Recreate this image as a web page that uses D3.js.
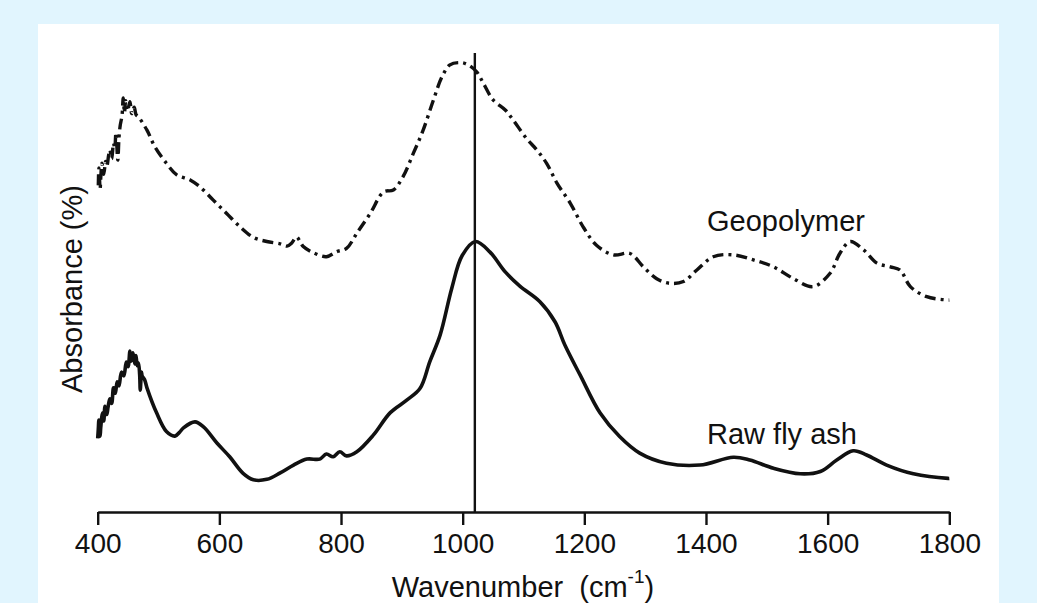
<!DOCTYPE html>
<html>
<head>
<meta charset="utf-8">
<script src="https://cdn.jsdelivr.net/npm/d3@7"></script>
<style>
  html, body { margin: 0; padding: 0; background: #e1f5fe; }
  svg { display: block; }
  text { font-family: "Liberation Sans", Arial, Helvetica, sans-serif; fill: #111; }
</style>
</head>
<body>
<svg id="chart" width="1037" height="603"></svg>
<script>
// ---- Data ----
const xTicks = [400, 600, 800, 1000, 1200, 1400, 1600, 1800];
const markerWavenumber = 1020;
const seriesNames = ["Geopolymer", "Raw fly ash"];

const rawFlyAshWavenumber = [400, 401, 402, 404, 405, 408, 410, 412, 415, 417, 420, 423, 426, 429, 432, 435, 439, 443, 447, 450, 453, 455, 458, 461, 463, 465, 467, 469, 470, 472, 473, 477, 481, 497, 513, 527, 535, 541, 560, 574, 596, 617, 639, 656, 678, 700, 722, 744, 765, 776, 787, 798, 809, 826, 853, 881, 908, 930, 946, 963, 982, 999, 1021, 1045, 1070, 1094, 1127, 1152, 1168, 1193, 1226, 1258, 1291, 1335, 1390, 1445, 1472, 1511, 1555, 1588, 1615, 1642, 1664, 1697, 1741, 1798, 1800];
const rawFlyAshAbsorbance = [16.0, 18.0, 20.0, 16.5, 18.4, 21.5, 19.8, 23.0, 21.2, 22.8, 24.6, 23.6, 27.0, 25.8, 28.3, 27.4, 30.4, 29.6, 32.6, 31.6, 35.0, 32.8, 34.6, 32.2, 34.0, 31.8, 32.4, 29.8, 26.5, 30.4, 29.6, 28.8, 27.0, 21.5, 17.5, 16.5, 17.4, 18.3, 19.6, 18.5, 15.0, 12.0, 8.4, 7.0, 7.1, 8.5, 10.2, 11.5, 11.5, 12.6, 12.0, 13.1, 12.2, 13.1, 16.7, 21.6, 24.3, 26.9, 32.7, 38.5, 48.6, 55.7, 58.8, 56.5, 52.2, 49.1, 45.7, 41.3, 36.3, 29.8, 21.5, 16.4, 12.8, 10.6, 10.2, 11.9, 11.3, 9.5, 8.3, 8.8, 11.3, 13.3, 12.4, 10.2, 8.3, 7.3, 7.3];

const geopolymerWavenumber = [401, 402, 404, 405, 407, 410, 413, 415, 418, 420, 423, 426, 428, 430, 433, 435, 437, 440, 442, 444, 446, 449, 453, 456, 460, 463, 467, 481, 494, 513, 530, 552, 568, 590, 612, 634, 656, 678, 700, 711, 719, 727, 733, 738, 754, 776, 793, 809, 826, 848, 870, 886, 902, 919, 935, 952, 966, 979, 996, 1009, 1023, 1034, 1050, 1070, 1083, 1105, 1122, 1138, 1155, 1177, 1198, 1220, 1248, 1275, 1297, 1319, 1341, 1363, 1385, 1412, 1445, 1478, 1511, 1543, 1576, 1604, 1620, 1637, 1659, 1681, 1703, 1719, 1736, 1763, 1798, 1800];
const geopolymerAbsorbance = [71.0, 74.8, 70.2, 72.6, 75.8, 73.4, 76.2, 75.1, 77.6, 78.7, 76.8, 80.2, 79.0, 82.5, 76.5, 81.4, 84.0, 86.2, 90.0, 86.8, 89.4, 87.2, 89.2, 86.6, 88.0, 86.4, 85.9, 83.0, 79.4, 75.8, 73.3, 72.2, 70.7, 67.8, 64.9, 62.0, 59.7, 58.8, 58.3, 57.8, 58.5, 59.8, 58.7, 57.7, 56.4, 55.5, 56.6, 57.3, 60.6, 64.9, 69.6, 70.0, 72.9, 78.0, 83.0, 89.6, 94.6, 97.2, 97.7, 97.2, 95.7, 93.2, 89.6, 87.4, 85.2, 81.2, 78.7, 75.8, 71.5, 67.1, 62.0, 58.0, 55.9, 56.2, 53.3, 50.7, 49.7, 50.1, 52.6, 55.5, 55.9, 54.8, 53.3, 50.8, 49.0, 51.9, 56.2, 58.8, 57.0, 54.1, 53.3, 52.6, 49.0, 46.8, 46.1, 46.1];

// ---- Layout ----
const svg = d3.select("#chart");
svg.append("rect")
  .attr("x", 38).attr("y", 24).attr("width", 961).attr("height", 579)
  .attr("fill", "#ffffff");

const x = d3.scaleLinear().domain([400, 1800]).range([97.7, 949.3]);
const y = d3.scaleLinear().domain([0, 100]).range([512, 52]);

// x axis
const xAxis = d3.axisBottom(x).tickValues(xTicks).tickFormat(d3.format("d"))
  .tickSizeInner(13).tickSizeOuter(0);
const gx = svg.append("g").attr("transform", "translate(0,512)").call(xAxis);
gx.select(".domain").attr("stroke", "#111").attr("stroke-width", 2.4);
gx.selectAll(".tick line").attr("stroke", "#111").attr("stroke-width", 2.4);
gx.selectAll(".tick text")
  .attr("y", 41).attr("dy", "0")
  .style("font-family", '"Liberation Sans", Arial, sans-serif')
  .style("font-size", "28px").attr("fill", "#111");

// vertical marker line
svg.append("line")
  .attr("x1", x(markerWavenumber)).attr("x2", x(markerWavenumber))
  .attr("y1", 53).attr("y2", 512)
  .attr("stroke", "#111").attr("stroke-width", 2.4);

const line = d3.line().x(d => x(d[0])).y(d => y(d[1])).curve(d3.curveCatmullRom.alpha(0.5));

const geo = geopolymerWavenumber.map((w, i) => [w, geopolymerAbsorbance[i]]);
const raw = rawFlyAshWavenumber.map((w, i) => [w, rawFlyAshAbsorbance[i]]);

svg.append("path").datum(geo)
  .attr("d", line)
  .attr("fill", "none").attr("stroke", "#111").attr("stroke-width", 3.4)
  .attr("stroke-dasharray", "11,5,3,5")
  .attr("stroke-linejoin", "round");

svg.append("path").datum(raw)
  .attr("d", line)
  .attr("fill", "none").attr("stroke", "#111").attr("stroke-width", 3.6)
  .attr("stroke-linejoin", "round");

// series labels
svg.append("text").attr("x", 707).attr("y", 231)
  .style("font-size", "29px").text(seriesNames[0]);
svg.append("text").attr("x", 707).attr("y", 444)
  .style("font-size", "29px").text(seriesNames[1]);

// axis titles
const xt = svg.append("text").attr("x", 523).attr("y", 597)
  .attr("text-anchor", "middle").style("font-size", "29px");
xt.append("tspan").text("Wavenumber\u00a0\u00a0(cm");
xt.append("tspan").attr("dy", -14).style("font-size", "19px").text("-1");
xt.append("tspan").attr("dy", 14).text(")");

svg.append("text")
  .attr("transform", "translate(82,289) rotate(-90)")
  .attr("text-anchor", "middle").style("font-size", "29px")
  .text("Absorbance (%)");
</script>
</body>
</html>
